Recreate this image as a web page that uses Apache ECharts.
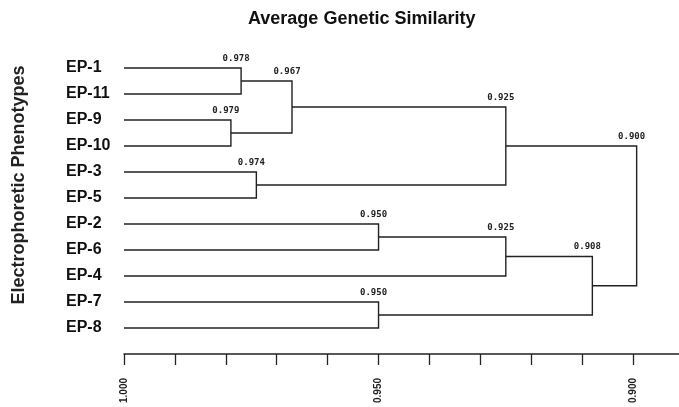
<!DOCTYPE html>
<html>
<head>
<meta charset="utf-8">
<style>html,body{margin:0;padding:0;background:#fff;overflow:hidden}#c{width:684px;height:407px}</style>
<script src="https://cdn.jsdelivr.net/npm/echarts@6/dist/echarts.min.js"></script>
</head>
<body>
<div id="c"></div>
<script>
// Leaves (top to bottom)
var leaves = ['EP-1','EP-11','EP-9','EP-10','EP-3','EP-5','EP-2','EP-6','EP-4','EP-7','EP-8'];
// Merges: node ids 0..10 are leaves, merge k gets id 11+k
var mergeLeft  = [0, 2, 11, 4, 13, 6, 16, 9, 17, 15];
var mergeRight = [1, 3, 12, 5, 14, 7, 8, 10, 18, 19];
var mergeSim   = [0.977, 0.979, 0.967, 0.974, 0.925, 0.950, 0.925, 0.950, 0.908, 0.8993];
var mergeLabel = ['0.978','0.979','0.967','0.974','0.925','0.950','0.925','0.950','0.908','0.900'];
var xTickLabels = [1.000, 0.950, 0.900];

// node coordinates in data space
var nodeX = [], nodeY = [];
leaves.forEach(function (l, i) { nodeX.push(1.0); nodeY.push(i); });
mergeSim.forEach(function (s, k) {
  nodeX.push(s);
  nodeY.push((nodeY[mergeLeft[k]] + nodeY[mergeRight[k]]) / 2);
});

var chart = echarts.init(document.getElementById('c'));
chart.setOption({
  animation: false,
  title: {
    text: 'Average Genetic Similarity',
    left: 243, top: 5,
    textStyle: { fontFamily: 'Liberation Sans', fontSize: 18, fontWeight: 'bold', color: '#111' }
  },
  grid: { left: 124, right: 0, top: 16, bottom: 53 },
  xAxis: {
    type: 'value', inverse: true, min: 0.89, max: 1.0, interval: 0.01,
    splitLine: { show: false },
    axisLine: { onZero: false, lineStyle: { color: '#222', width: 1.5 } },
    axisTick: { length: 11, lineStyle: { color: '#222', width: 1.3 } },
    axisLabel: {
      rotate: 90, margin: 24,
      fontFamily: 'Liberation Sans', fontSize: 10, fontWeight: 'bold', color: '#222',
      formatter: function (v) {
        for (var i = 0; i < xTickLabels.length; i++) {
          if (Math.abs(v - xTickLabels[i]) < 1e-6) return xTickLabels[i].toFixed(3);
        }
        return '';
      }
    }
  },
  yAxis: {
    type: 'value', inverse: true, min: -2, max: 11, interval: 1,
    name: 'Electrophoretic Phenotypes', nameLocation: 'middle', nameGap: 96,
    nameTextStyle: { fontFamily: 'Liberation Sans', fontSize: 18, fontWeight: 'bold', color: '#222' },
    splitLine: { show: false },
    axisLine: { show: false }, axisTick: { show: false },
    axisLabel: {
      align: 'left', margin: 58, padding: [6, 0, 0, 0],
      fontFamily: 'Liberation Sans', fontSize: 16, fontWeight: 'bold', color: '#111',
      formatter: function (v) { return (v >= 0 && v < leaves.length && v === Math.round(v)) ? leaves[v] : ''; }
    }
  },
  series: [{
    type: 'custom',
    data: mergeSim.map(function (s, k) { return [k]; }),
    renderItem: function (params, api) {
      var k = params.dataIndex;
      var a = mergeLeft[k], b = mergeRight[k];
      var pa = api.coord([nodeX[a], nodeY[a]]);
      var pb = api.coord([nodeX[b], nodeY[b]]);
      var xm = api.coord([mergeSim[k], 0])[0];
      return {
        type: 'group',
        children: [{
          type: 'polyline',
          shape: { points: [[pa[0], pa[1]], [xm, pa[1]], [xm, pb[1]], [pb[0], pb[1]]] },
          style: { stroke: '#222', lineWidth: 1.4, fill: null }
        }, {
          type: 'text',
          x: xm - 5, y: Math.min(pa[1], pb[1]) - 5,
          style: {
            text: mergeLabel[k], textAlign: 'center', textVerticalAlign: 'bottom',
            fontFamily: 'DejaVu Sans Mono', fontSize: 9, fontWeight: 'bold', fill: '#222'
          }
        }]
      };
    }
  }]
});
</script>
</body>
</html>
